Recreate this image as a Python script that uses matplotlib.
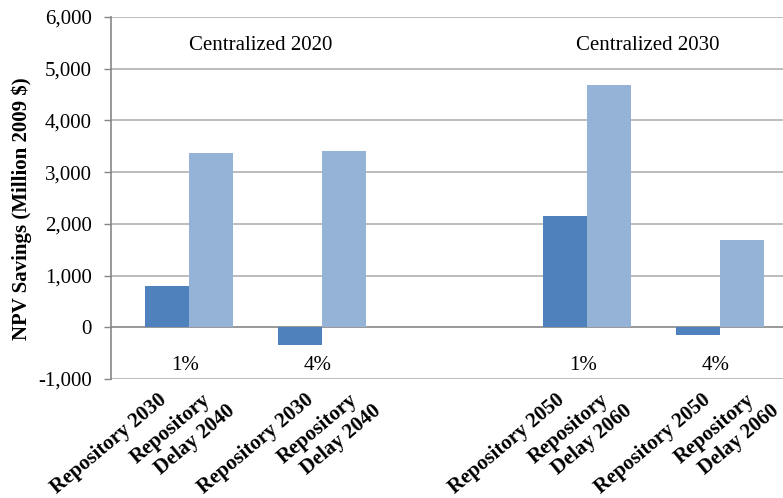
import matplotlib
matplotlib.use("Agg")
import matplotlib.pyplot as plt
from matplotlib.transforms import offset_copy
import numpy as np

# Data
group_positions = [0, 1, 3, 4]
rates = ["1%", "4%", "1%", "4%"]
dark_labels = ["Repository 2030", "Repository 2030", "Repository 2050", "Repository 2050"]
light_labels = ["Repository\nDelay 2040", "Repository\nDelay 2040",
                "Repository\nDelay 2060", "Repository\nDelay 2060"]
dark_values = [800, -340, 2150, -150]
light_values = [3370, 3400, 4690, 1690]
panel_titles = ["Centralized 2020", "Centralized 2030"]
yticks = [-1000, 0, 1000, 2000, 3000, 4000, 5000, 6000]

plt.rcParams['font.family'] = ['Liberation Serif', 'DejaVu Serif']

W, H = 783, 498
fig = plt.figure(figsize=(W / 100, H / 100), dpi=100)
ax = fig.add_axes([111 / W, 119 / H, 1 - 111 / W, 362 / H])

bw = 0.332
x = np.array(group_positions, dtype=float)
ax.bar(x - bw / 2, dark_values, width=bw, color="#4F81BD", zorder=3)
ax.bar(x + bw / 2, light_values, width=bw, color="#95B3D7", zorder=3)

ax.set_xlim(-0.592, 4.479)
ax.set_ylim(-1000, 6000)
ax.set_yticks(yticks)
ax.set_yticklabels([f"{v:,}" for v in yticks], fontsize=15)
ax.tick_params(axis='y', length=5, width=1, color="#868686", pad=9)

for v in yticks:
    if v == 0:
        ax.axhline(v, color="#868686", lw=1.2, zorder=2)
    else:
        ax.axhline(v, color="#AAAAAA", lw=1.1, zorder=1)

for s in ["top", "right", "bottom"]:
    ax.spines[s].set_visible(False)
ax.spines["left"].set_color("#868686")
ax.spines["left"].set_linewidth(1.2)

# Category labels (rotated, one per bar)
label_shift_px = [0, 14, 0, 14]  # horizontal shift of labels per group (layout)
ax.set_xticks([])
base = ax.get_xaxis_transform()
for i, p in enumerate(group_positions):
    for t, lab in ((p - bw / 2, dark_labels[i]), (p + bw / 2, light_labels[i])):
        for k, line in enumerate(lab.split("\n")):
            dx = label_shift_px[i] + 24 * k
            dy = -22 - 11 * k
            tr = offset_copy(base, fig=fig, x=dx * 0.72, y=dy * 0.72, units='points')
            ax.text(t, 0, line, transform=tr, rotation=40, rotation_mode="anchor",
                    ha="right", va="baseline", fontsize=15, fontweight="bold",
                    clip_on=False)

for p, r in zip(group_positions, rates):
    ax.text(p - 0.03, -740, r, ha="center", va="center", fontsize=15)

ax.text((group_positions[0] + group_positions[1]) / 2 + 0.04, 5455, panel_titles[0],
        ha="center", va="center", fontsize=15)
ax.text((group_positions[2] + group_positions[3]) / 2 - 0.04, 5455, panel_titles[1],
        ha="center", va="center", fontsize=15)

fig.text(22 / W, 1 - 209 / H, "NPV Savings (Million 2009 $)", rotation=90,
         ha="center", va="center", fontsize=15, fontweight="bold")

fig.savefig("out.png", dpi=100)
